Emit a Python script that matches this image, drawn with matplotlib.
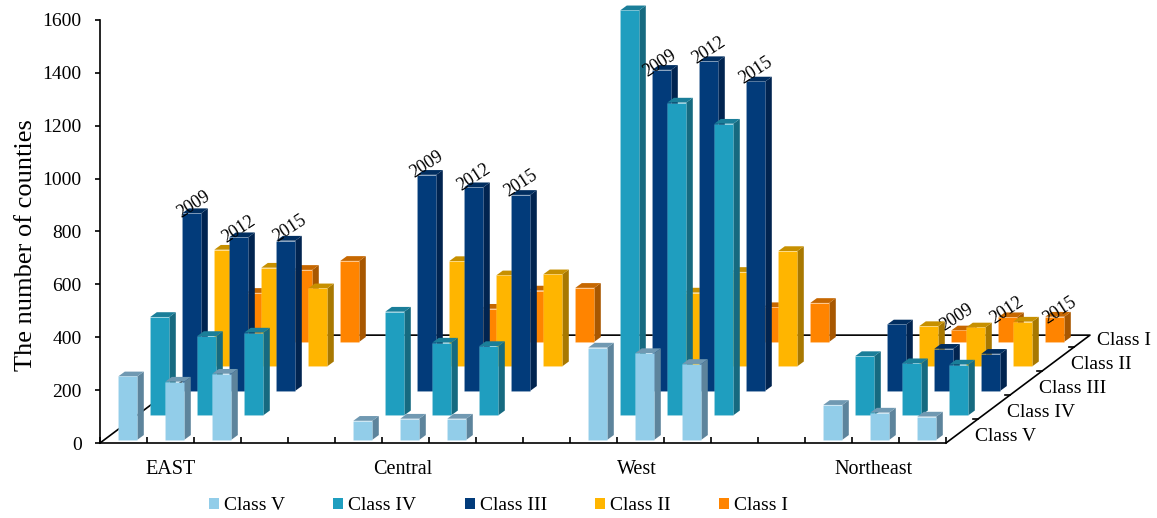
#! /usr/bin/python3
# -*- coding:UTF-8 -*-
import matplotlib
matplotlib.use("Agg")
import matplotlib.pyplot as plt
from matplotlib.patches import Patch

plt.rcParams["font.family"] = ["Liberation Serif", "DejaVu Serif"]

regions = ["EAST", "Central", "West", "Northeast"]
years = ["2009", "2012", "2015"]
classes = ["Class V", "Class IV", "Class III", "Class II", "Class I"]

# number of counties, one list per region holding 2009, 2012, 2015
class_v = [[240, 220, 250], [72, 80, 80], [349, 328, 287], [132, 103, 88]]
class_iv = [[372, 300, 313], [392, 275, 262], [1532, 1183, 1103], [224, 197, 192]]
class_iii = [[672, 581, 568], [817, 770, 741], [1214, 1247, 1170], [251, 159, 140]]
class_ii = [[441, 373, 295], [398, 344, 348], [279, 357, 436], [152, 147, 169]]
class_i = [[185, 272, 306], [125, 194, 204], [100, 131, 147], [43, 93, 95]]
all_classes = [class_v, class_iv, class_iii, class_ii, class_i]

# front, top, side
colors = [("#92CDE9", "#7099B2", "#5D849C"),
          ("#1F9EBF", "#1A7E99", "#166A80"),
          ("#023B7A", "#012E60", "#012450"),
          ("#FFB500", "#C79000", "#A87800"),
          ("#FF8400", "#C66700", "#A85700")]

# oblique projection: one class row back moves this far in x (slots) and y (counties)
ROW_DX = 32 / 47
ROW_DY = 92.7
BAR_W = 19 / 47
SIDE_DX = 6.5 / 47
SIDE_DY = 18
X0 = 18.3 / 47
BASE = 12
FLOOR_DX = 144 / 47
FLOOR_DY = 408


def project(slot, value, row):
    return slot + row * ROW_DX, value + row * ROW_DY


def draw_bar(ax, slot, value, row):
    front, top, side = colors[row]
    x, y0 = project(slot + X0, BASE, row)
    y1 = y0 + value
    x1 = x + BAR_W
    ax.fill([x1, x1 + SIDE_DX, x1 + SIDE_DX, x1], [y0, y0 + SIDE_DY, y1 + SIDE_DY, y1],
            color=side, lw=0, clip_on=False, zorder=3)
    ax.fill([x, x1, x1 + SIDE_DX, x + SIDE_DX], [y1, y1, y1 + SIDE_DY, y1 + SIDE_DY],
            color=top, lw=0, clip_on=False, zorder=3)
    # thin pale rim around the front face
    ax.fill([x, x1, x1, x], [y0, y0, y1, y1], facecolor=front, edgecolor=(1, 1, 1, 0.12),
            lw=0.6, clip_on=False, zorder=3)


fig = plt.figure(figsize=(11.57, 5.18), dpi=100)
ax = fig.add_axes([100 / 1157, 75 / 518, 846 / 1157, 423 / 518])
ax.set_xlim(0, 18)
ax.set_ylim(0, 1600)
for s in ["top", "right"]:
    ax.spines[s].set_visible(False)
ax.spines["left"].set_linewidth(1.2)
ax.spines["bottom"].set_linewidth(1.2)
ax.spines["bottom"].set_zorder(5)
ax.patch.set_alpha(0)

ax.set_yticks(range(0, 1601, 200))
ax.tick_params(axis="y", labelsize=14, length=3.6, width=1.2, pad=9.5)
ax.set_xticks(range(0, 19))
ax.set_xticklabels([])
ax.tick_params(axis="x", direction="in", length=4, width=1.2)
ax.set_ylabel("The number of counties", fontsize=19)
ax.yaxis.set_label_coords(-0.075, 0.468)

# floor outline going back from the front axis
floor = dict(color="black", lw=1.2, clip_on=False, zorder=1)
ax.plot([0, FLOOR_DX, 18 + FLOOR_DX, 18], [0, FLOOR_DY, FLOOR_DY, 0], **floor)
for row in range(1, 5):
    x = 18 + FLOOR_DX * row / 4.5
    y = FLOOR_DY * row / 4.5
    ax.plot([x - 0.11, x], [y, y], **floor)

# back row first so nearer bars cover it
for row in range(4, -1, -1):
    for r in range(len(regions)):
        for k in range(len(years)):
            draw_bar(ax, r * 5 + k, all_classes[row][r][k], row)

region_shift = [0, -0.06, -0.08, -0.05]
for r, name in enumerate(regions):
    ax.text(r * 5 + 1.5 + region_shift[r], -100, name, fontsize=14.5, ha="center", va="center",
            clip_on=False)

# the last row label is pulled in a little so it fits inside the figure
label_pull = [0, 0, 0, 0, 0.13]
for row, name in enumerate(classes):
    x, y = project(18.62 - label_pull[row], 26, row)
    ax.text(x, y - 2 * row, name, fontsize=14, ha="left", va="center", clip_on=False)

# year tags sit over the Class III bars, the Northeast ones are moved off to the right
tag_shift = [[(2, 9), (0, 8), (4, 12)],
             [(0, 10), (0, 10), (0, 11)],
             [(-2, 6), (0, 11), (0, 11)],
             [(60, 7), (63, 38), (69, 43)]]
for r in range(len(regions)):
    for k, year in enumerate(years):
        x, y = project(r * 5 + k + X0 + BAR_W / 2, BASE + class_iii[r][k], 2)
        ax.annotate(year, xy=(x, y), xytext=tag_shift[r][k], textcoords="offset pixels",
                    fontsize=13, rotation=33, rotation_mode="anchor",
                    ha="center", va="center", annotation_clip=False, zorder=6)

handles = [Patch(facecolor=c[0], label=n) for c, n in zip(colors, classes)]
fig.legend(handles=handles, ncol=5, loc="center", bbox_to_anchor=(498.5 / 1157, 1 - 506 / 518),
           frameon=False, fontsize=14, handlelength=0.51, handleheight=0.51,
           handletextpad=0.26, columnspacing=2.48, borderpad=0, borderaxespad=0)

fig.savefig("out.png", dpi=100)
